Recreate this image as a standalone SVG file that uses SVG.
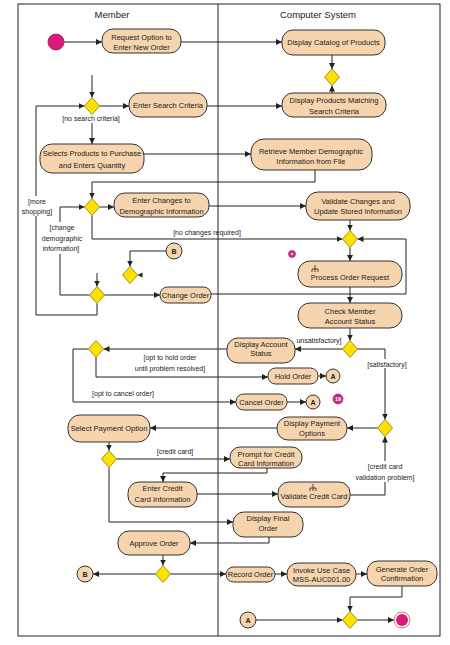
<svg xmlns="http://www.w3.org/2000/svg" width="450" height="645" viewBox="0 0 450 645">
<defs>
<marker id="arr" markerUnits="userSpaceOnUse" markerWidth="6" markerHeight="6" refX="6" refY="3" orient="auto">
<path d="M0,0 L6,3 L0,6 z" fill="#222"/>
</marker>
<style>
.act{fill:#F5D4AE;stroke:#333;stroke-width:1}
.dec{fill:#FFE100;stroke:#8a7a00;stroke-width:0.8}
.con{fill:#F5D4AE;stroke:#333;stroke-width:1}
.t{font-family:"Liberation Sans",Arial,sans-serif;font-size:7.5px;fill:#222;text-anchor:middle}
.g{font-family:"Liberation Sans",Arial,sans-serif;font-size:7px;fill:#222;text-anchor:middle}
.h{font-family:"Liberation Sans",Arial,sans-serif;font-size:9.5px;fill:#222;text-anchor:middle}
.c{font-family:"Liberation Sans",Arial,sans-serif;font-size:7px;font-weight:bold;fill:#222;text-anchor:middle}
.ln{fill:none;stroke:#222;stroke-width:1}
.a{fill:none;stroke:#222;stroke-width:1;marker-end:url(#arr)}
.rk{fill:none;stroke:#222;stroke-width:0.8}
.bg{fill:#fff}
</style>
</defs>
<rect width="450" height="645" fill="#fff"/>
<g id="frame">
<rect x="18" y="4" width="422" height="632" class="ln"/>
<line x1="218" y1="4" x2="218" y2="636" class="ln"/>
<text x="112" y="18" class="h">Member</text>
<text x="318" y="18" class="h">Computer System</text>
</g>
<g id="connectors">
<path d="M64,42 H102" class="a"/>
<path d="M181,42 H282" class="a"/>
<path d="M332,55 V69" class="a"/>
<path d="M332,93 V85.5" class="a"/>
<path d="M92,75 V97.5" class="a"/>
<path d="M99.5,106 H129" class="a"/>
<path d="M207,106 H282" class="a"/>
<path d="M92,114.5 V144" class="a"/>
<path d="M144,154 H251" class="a"/>
<path d="M315,170 V182 H92 V198.5" class="a"/>
<path d="M99.5,207 H114" class="a"/>
<path d="M209,206 H306" class="a"/>
<path d="M350,220 V230.5" class="a"/>
<path d="M92,215.5 V239 H342.5" class="a"/>
<path d="M350,247.5 V261" class="a"/>
<path d="M350,287 V303" class="a"/>
<path d="M211,294 H406 V239 H357.5" class="a"/>
<path d="M89.5,295 H60 V207 H84.5" class="a"/>
<path d="M97,303.5 V315 H36 V106 H84.5" class="a"/>
<path d="M104.5,295 H160" class="a"/>
<path d="M97,273 V286.5" class="a"/>
<path d="M166,251 H130 V266.5" class="a"/>
<path d="M137.5,275 l5,-2.5 v5 z" fill="#222"/>
<path d="M350,328 V340.5" class="a"/>
<path d="M342.5,349 H295" class="a"/>
<path d="M227,349 H103.5" class="a"/>
<path d="M96,357.5 V377 H268" class="a"/>
<path d="M88.5,349 H73 V402 H236" class="a"/>
<path d="M318,376 H326" class="a"/>
<path d="M287,402 H306" class="a"/>
<path d="M357.5,349 H385 V419.5" class="a"/>
<path d="M377.5,428 H347" class="a"/>
<path d="M277,428 H150" class="a"/>
<path d="M109,442 V450.5" class="a"/>
<path d="M116.5,459 H230" class="a"/>
<path d="M267,468 V473 H163 V482" class="a"/>
<path d="M197,494 H278" class="a"/>
<path d="M350,495 H385 V436.5" class="a"/>
<path d="M109,467.5 V522 H233" class="a"/>
<path d="M269,537 V543 H190" class="a"/>
<path d="M163,555 V565.5" class="a"/>
<path d="M155.5,574 H93" class="a"/>
<path d="M170.5,574 H226" class="a"/>
<path d="M275,574 H287" class="a"/>
<path d="M356,574 H367" class="a"/>
<path d="M402,586 V597 H350 V611.5" class="a"/>
<path d="M256,620 H342.5" class="a"/>
<path d="M357.5,620 H394" class="a"/>
</g>
<g id="labels">
<rect x="60" y="114" width="63" height="9" class="bg"/>
<text x="91" y="120.5" class="g">[no search criteria]</text>
<rect x="19" y="196" width="36" height="20" class="bg"/>
<text x="37" y="203.5" class="g">[more</text>
<text x="37" y="213.5" class="g">shopping]</text>
<rect x="40" y="222" width="44" height="32" class="bg"/>
<text x="62" y="230" class="g">[change</text>
<text x="62" y="240.5" class="g">demographic</text>
<text x="61" y="251" class="g">information]</text>
<text x="207" y="234.5" class="g">[no changes required]</text>
<text x="319" y="342.5" class="g">unsatisfactory]</text>
<text x="170" y="359.5" class="g">[opt to hold order</text>
<text x="170" y="370.5" class="g">until problem resolved]</text>
<text x="123" y="395.5" class="g">[opt to cancel order]</text>
<rect x="367" y="359" width="40" height="9" class="bg"/>
<text x="387" y="366.5" class="g">[satisfactory]</text>
<text x="175" y="453.5" class="g">[credit card]</text>
<rect x="352" y="461" width="66" height="21" class="bg"/>
<text x="385" y="468.5" class="g">[credit card</text>
<text x="385" y="479.5" class="g">validation problem]</text>
</g>
<g id="start"><circle cx="56" cy="42" r="8" fill="#D81B7A" stroke="#a01060" stroke-width="0.8"/></g>
<g id="request"><rect x="102" y="29" width="79" height="24" rx="11" class="act"/><text x="141.5" y="39.5" class="t">Request Option to</text><text x="141.5" y="50" class="t">Enter New Order</text></g>
<g id="catalog"><rect x="282" y="30" width="103" height="25" rx="11" class="act"/><text x="333.5" y="45" class="t">Display Catalog of Products</text></g>
<g id="d1"><path d="M332,69 L339.5,77 L332,85.5 L324.5,77 z" class="dec"/></g>
<g id="dA"><path d="M92,97.5 L99.5,106 L92,114.5 L84.5,106 z" class="dec"/></g>
<g id="search"><rect x="129" y="93" width="78" height="24" rx="11" class="act"/><text x="168" y="108" class="t">Enter Search Criteria</text></g>
<g id="matching"><rect x="282" y="93" width="104" height="24" rx="11" class="act"/><text x="334" y="102.5" class="t">Display Products Matching</text><text x="334" y="113.5" class="t">Search Criteria</text></g>
<g id="selects"><rect x="40" y="144" width="104" height="29" rx="12" class="act"/><text x="92" y="155.5" class="t">Selects Products to Purchase</text><text x="92" y="167.5" class="t">and Enters Quantity</text></g>
<g id="retrieve"><rect x="251" y="139" width="121" height="31" rx="13" class="act"/><text x="311" y="153.5" class="t">Retrieve Member Demographic</text><text x="311" y="163.5" class="t">Information from File</text></g>
<g id="dB"><path d="M92,198.5 L99.5,207 L92,215.5 L84.5,207 z" class="dec"/></g>
<g id="changes"><rect x="114" y="193" width="95" height="24" rx="11" class="act"/><text x="161.5" y="202.5" class="t">Enter Changes to</text><text x="161.5" y="213.5" class="t">Demographic Information</text></g>
<g id="validate"><rect x="306" y="192" width="104" height="28" rx="12" class="act"/><text x="358" y="203.5" class="t">Validate Changes and</text><text x="358" y="213.5" class="t">Update Stored Information</text></g>
<g id="dC"><path d="M350,230.5 L357.5,239 L350,247.5 L342.5,239 z" class="dec"/></g>
<g id="B1"><circle cx="174" cy="251" r="8" class="con"/><text x="174" y="253.5" class="c">B</text></g>
<g id="dE"><path d="M130,266.5 L137.5,275 L130,283.5 L122.5,275 z" class="dec"/></g>
<g id="marker9"><circle cx="292" cy="254" r="3.5" fill="#D0307F" stroke="#a01060" stroke-width="0.6"/><circle cx="292" cy="254" r="1.3" fill="#f3b0d0"/></g>
<g id="process"><rect x="298" y="261" width="104" height="26" rx="12" class="act"/><path d="M315,265 V269 M312,272 V269 H318 V272 M315,269 V272" class="rk"/><text x="350" y="279.5" class="t">Process Order Request</text></g>
<g id="dD"><path d="M97,286.5 L104.5,295 L97,303.5 L89.5,295 z" class="dec"/></g>
<g id="changeorder"><rect x="160" y="287" width="51" height="16" rx="7.5" class="act"/><text x="185.5" y="297.5" class="t">Change Order</text></g>
<g id="check"><rect x="298" y="303" width="104" height="25" rx="12" class="act"/><text x="350" y="313.5" class="t">Check Member</text><text x="350" y="323.5" class="t">Account Status</text></g>
<g id="dF"><path d="M350,340.5 L357.5,349 L350,357.5 L342.5,349 z" class="dec"/></g>
<g id="dispacct"><rect x="227" y="338" width="68" height="25" rx="11" class="act"/><text x="261" y="346.5" class="t">Display Account</text><text x="261" y="356" class="t">Status</text></g>
<g id="dG"><path d="M96,340.5 L103.5,349 L96,357.5 L88.5,349 z" class="dec"/></g>
<g id="hold"><rect x="268" y="368" width="50" height="16" rx="7.5" class="act"/><text x="293" y="379" class="t">Hold Order</text></g>
<g id="A1"><circle cx="333" cy="376" r="7" class="con"/><text x="333" y="378.5" class="c">A</text></g>
<g id="cancel"><rect x="236" y="394" width="51" height="16" rx="7.5" class="act"/><text x="261.5" y="405" class="t">Cancel Order</text></g>
<g id="A2"><circle cx="313" cy="402" r="7" class="con"/><text x="313" y="404.5" class="c">A</text></g>
<g id="marker19"><circle cx="338" cy="399" r="5" fill="#C8287A" stroke="#a01060" stroke-width="0.6"/><text x="338" y="401" style="font-family:'Liberation Sans',Arial,sans-serif;font-size:5.5px;font-weight:bold;fill:#fff;text-anchor:middle">19</text></g>
<g id="dH"><path d="M385,419.5 L392.5,428 L385,436.5 L377.5,428 z" class="dec"/></g>
<g id="disppay"><rect x="277" y="417" width="70" height="23" rx="11" class="act"/><text x="312" y="425.5" class="t">Display Payment</text><text x="312" y="435.5" class="t">Options</text></g>
<g id="selectpay"><rect x="68" y="415" width="82" height="27" rx="12" class="act"/><text x="109" y="431" class="t">Select Payment Option</text></g>
<g id="dI"><path d="M109,450.5 L116.5,459 L109,467.5 L101.5,459 z" class="dec"/></g>
<g id="prompt"><rect x="230" y="447" width="72" height="21" rx="10" class="act"/><text x="266" y="456.5" class="t">Prompt for Credit</text><text x="266" y="466" class="t">Card Information</text></g>
<g id="entercc"><rect x="128" y="482" width="69" height="25" rx="11" class="act"/><text x="162.5" y="490.5" class="t">Enter Credit</text><text x="162.5" y="501.5" class="t">Card Information</text></g>
<g id="validatecc"><rect x="278" y="482" width="72" height="25" rx="11" class="act"/><path d="M313,484 V488 M310,491 V488 H316 V491 M313,488 V491" class="rk"/><text x="314" y="499" class="t">Validate Credit Card</text></g>
<g id="final"><rect x="233" y="512" width="70" height="25" rx="11" class="act"/><text x="268" y="520.5" class="t">Display Final</text><text x="268" y="530.5" class="t">Order</text></g>
<g id="approve"><rect x="118" y="531" width="72" height="24" rx="11" class="act"/><text x="154" y="545.5" class="t">Approve Order</text></g>
<g id="dJ"><path d="M163,565.5 L170.5,574 L163,582.5 L155.5,574 z" class="dec"/></g>
<g id="B2"><circle cx="85" cy="574" r="8" class="con"/><text x="85" y="576.5" class="c">B</text></g>
<g id="record"><rect x="226" y="567" width="49" height="15" rx="7.5" class="act"/><text x="250.5" y="577" class="t">Record Order</text></g>
<g id="invoke"><rect x="287" y="563" width="69" height="23" rx="11" class="act"/><text x="321.5" y="572.5" class="t">Invoke Use Case</text><text x="321.5" y="582" class="t">MSS-AUC001.00</text></g>
<g id="generate"><rect x="367" y="561" width="70" height="25" rx="11" class="act"/><text x="402" y="571.5" class="t">Generate Order</text><text x="402" y="581" class="t">Confirmation</text></g>
<g id="dK"><path d="M350,611.5 L357.5,620 L350,628.5 L342.5,620 z" class="dec"/></g>
<g id="A3"><circle cx="248" cy="620" r="8" class="con"/><text x="248" y="622.5" class="c">A</text></g>
<g id="end"><circle cx="402" cy="620" r="8" fill="#fff" stroke="#c77" stroke-width="1"/><circle cx="402" cy="620" r="6" fill="#D81B7A"/></g>
</svg>
